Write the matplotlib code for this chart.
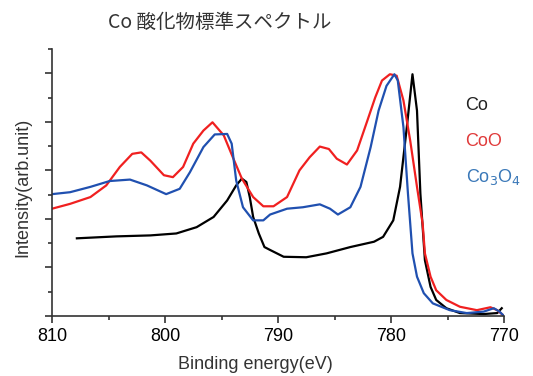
import matplotlib
matplotlib.use('Agg')
import matplotlib.pyplot as plt
from matplotlib.ticker import MultipleLocator

plt.rcParams['font.family'] = ['Liberation Sans', 'Noto Sans CJK JP', 'DejaVu Sans']

# Co (metal), binding energy (eV) / intensity (arb.)
co_e = [807.8, 804.3, 801.3, 799.0, 797.2, 795.7, 794.5, 793.7, 793.2, 792.8,
        792.5, 792.2, 791.7, 791.2, 790.7, 789.5, 787.5, 785.7, 783.6, 781.5,
        780.7, 779.8, 779.2, 778.6, 778.1, 777.7, 777.4, 777.0, 776.5, 776.0,
        775.1, 773.9, 771.8, 770.6, 770.2]
co_i = [1.60, 1.64, 1.66, 1.70, 1.83, 2.04, 2.38, 2.69, 2.83, 2.76,
        2.45, 2.04, 1.70, 1.42, 1.36, 1.22, 1.21, 1.29, 1.42, 1.53,
        1.63, 1.97, 2.66, 3.89, 4.98, 4.23, 2.52, 1.15, 0.60, 0.33,
        0.16, 0.06, 0.04, 0.06, 0.16]

# CoO
coo_e = [810.0, 808.4, 806.6, 805.2, 804.0, 802.9, 802.1, 801.3, 800.1, 799.3,
         798.4, 797.5, 796.6, 795.8, 794.8, 794.0, 793.2, 792.2, 791.3, 790.4,
         789.2, 788.1, 787.2, 786.3, 785.5, 784.8, 783.9, 783.0, 782.1, 781.4,
         780.8, 780.1, 779.5, 778.9, 778.3, 777.7, 777.2, 777.0, 776.5, 776.0,
         775.1, 773.9, 772.4, 771.2, 770.6, 770.0]
coo_i = [2.21, 2.31, 2.45, 2.69, 3.07, 3.34, 3.37, 3.20, 2.90, 2.86,
         3.07, 3.55, 3.82, 3.99, 3.72, 3.27, 2.83, 2.45, 2.26, 2.26,
         2.45, 3.00, 3.27, 3.49, 3.44, 3.24, 3.12, 3.41, 4.02, 4.50,
         4.85, 4.98, 4.95, 4.44, 3.61, 2.66, 1.90, 1.29, 0.81, 0.53,
         0.33, 0.19, 0.12, 0.18, 0.12, 0.0]

# Co3O4
co3o4_e = [810.0, 808.4, 806.6, 804.9, 803.1, 801.6, 799.9, 798.7, 797.8, 796.6,
           795.6, 794.5, 794.1, 793.7, 793.1, 792.2, 791.3, 790.7, 789.2, 787.8,
           786.3, 785.4, 784.7, 783.6, 782.7, 781.8, 781.1, 780.4, 779.7, 779.4,
           778.9, 778.5, 778.1, 777.7, 777.1, 776.3, 774.8, 773.3, 771.8, 770.9,
           770.4, 770.0]
co3o4_i = [2.51, 2.55, 2.66, 2.78, 2.81, 2.69, 2.51, 2.62, 2.96, 3.48,
           3.74, 3.75, 3.55, 2.79, 2.24, 1.97, 1.97, 2.09, 2.21, 2.24,
           2.30, 2.21, 2.09, 2.24, 2.66, 3.48, 4.23, 4.74, 4.98, 4.85,
           3.89, 2.52, 1.29, 0.81, 0.47, 0.26, 0.12, 0.06, 0.09, 0.16,
           0.09, 0.0]

fig = plt.figure(figsize=(5.33, 3.76), dpi=100)
ax = fig.add_axes([0.0976, 0.1596, 0.848, 0.7101])

ax.plot(co_e, co_i, color='black', linewidth=1.6)
ax.plot(coo_e, coo_i, color='#f02020', linewidth=1.6)
ax.plot(co3o4_e, co3o4_i, color='#2050b0', linewidth=1.6)

ax.set_xlim(810, 770)
ax.set_ylim(0, 5.5)
ax.xaxis.set_major_locator(MultipleLocator(10))
ax.xaxis.set_minor_locator(MultipleLocator(5))
ax.yaxis.set_major_locator(MultipleLocator(1))
ax.yaxis.set_minor_locator(MultipleLocator(0.5))
ax.set_yticklabels([])
ax.tick_params(axis='both', which='major', length=5, width=1.2, color='#333333',
               labelsize=13)
ax.tick_params(axis='both', which='minor', length=3, width=1.2, color='#333333')
for s in ['top', 'right']:
    ax.spines[s].set_visible(False)
for s in ['left', 'bottom']:
    ax.spines[s].set_color('#333333')
    ax.spines[s].set_linewidth(1.2)

ax.set_xlabel('Binding energy(eV)', fontsize=13, color='#333333')
ax.xaxis.set_label_coords(0.451, -0.15)
ax.set_ylabel('Intensity(arb.unit)', fontsize=13, color='#333333')
ax.yaxis.set_label_coords(-0.045, 0.48)

fig.text(0.413, 0.941, 'Co 酸化物標準スペクトル', fontsize=14, color='#333333',
         ha='center', va='center', family=['Noto Sans CJK JP', 'DejaVu Sans'])

ax.text(0.915, 0.77, 'Co', transform=ax.transAxes, fontsize=13, color='#222222')
ax.text(0.915, 0.635, 'CoO', transform=ax.transAxes, fontsize=13, color='#e03a3a')
ax.text(0.915, 0.50, 'Co$_3$O$_4$', transform=ax.transAxes, fontsize=13, color='#3a78b8')

fig.savefig('out.png', dpi=100)
